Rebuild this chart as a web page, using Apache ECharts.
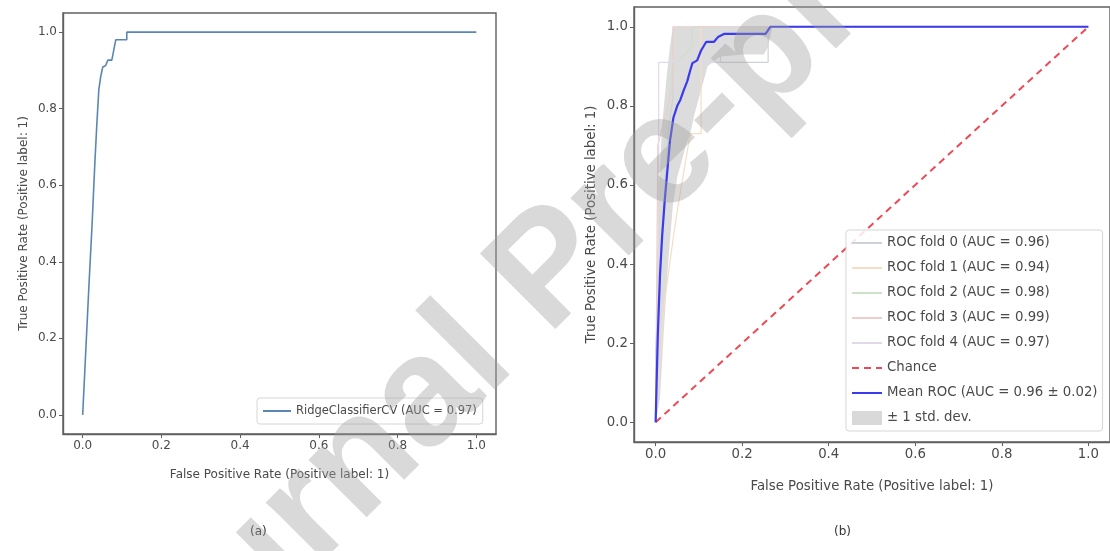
<!DOCTYPE html>
<html>
<head>
<meta charset="utf-8">
<title>ROC curves</title>
<script src="https://cdn.jsdelivr.net/npm/echarts@6/dist/echarts.min.js"></script>
<style>
  html, body { margin: 0; padding: 0; background: #fff; }
  #main { width: 1110px; height: 551px; }
</style>
</head>
<body>
<div id="main"></div>
<script>
// tick values shared by both panels
var tickVals = [0, 0.2, 0.4, 0.6, 0.8, 1.0];

// (a) RidgeClassifierCV
var ridgeFpr = [0, 0.008, 0.016, 0.024, 0.031, 0.036, 0.041, 0.046, 0.051, 0.058, 0.064, 0.074, 0.078, 0.082, 0.084, 0.112, 0.112, 1];
var ridgeTpr = [0, 0.17, 0.34, 0.5, 0.66, 0.76, 0.85, 0.885, 0.909, 0.912, 0.927, 0.927, 0.948, 0.948, 0.98, 0.98, 1, 1];

// (b) cross-validation folds
var foldNames = ['ROC fold 0 (AUC = 0.96)', 'ROC fold 1 (AUC = 0.94)', 'ROC fold 2 (AUC = 0.98)', 'ROC fold 3 (AUC = 0.99)', 'ROC fold 4 (AUC = 0.97)'];
var foldFpr = [
  [0, 0, 0.015, 0.03, 0.04, 0.04, 0.26, 0.26, 1],
  [0, 0.02, 0.045, 0.06, 0.08, 0.105, 0.105, 1],
  [0, 0.01, 0.03, 0.04, 0.085, 0.085, 1],
  [0, 0.005, 0.04, 0.04, 1],
  [0, 0.007, 0.007, 0.15, 0.15, 1]
];
var foldTpr = [
  [0, 0.18, 0.5, 0.75, 0.82, 0.91, 0.91, 1, 1],
  [0, 0.3, 0.5, 0.6, 0.73, 0.73, 1, 1],
  [0, 0.6, 0.8, 0.9, 0.95, 1, 1],
  [0, 0.7, 0.85, 1, 1],
  [0, 0.2, 0.91, 0.91, 1, 1]
];
var foldColors = ['#cdd2d8', '#f3dec6', '#cde0ca', '#edcdcd', '#e0d9e8'];

var chanceFpr = [0, 1];
var chanceTpr = [0, 1];

var meanFpr = [0, 0.005, 0.01, 0.015, 0.021, 0.033, 0.041, 0.05, 0.057, 0.065, 0.073, 0.08, 0.085, 0.096, 0.105, 0.117, 0.135, 0.145, 0.158, 0.254, 0.265, 1];
var meanTpr = [0, 0.22, 0.37, 0.47, 0.56, 0.71, 0.77, 0.8, 0.815, 0.84, 0.862, 0.89, 0.908, 0.915, 0.94, 0.962, 0.962, 0.975, 0.982, 0.982, 1, 1];

// +/- 1 std band edges
var upFpr = [0, 0.003, 0.008, 0.015, 0.025, 0.033, 0.04, 1];
var upTpr = [0, 0.4, 0.6, 0.75, 0.87, 0.95, 1, 1];
var loFpr = [0, 0.01, 0.02, 0.03, 0.04, 0.05, 0.06, 0.07, 0.08, 0.09, 0.1, 0.11, 0.12, 0.15, 0.2, 0.25, 0.26, 0.27, 1];
var loTpr = [0, 0.06, 0.25, 0.42, 0.55, 0.62, 0.66, 0.7, 0.73, 0.78, 0.82, 0.86, 0.9, 0.925, 0.93, 0.93, 0.95, 1, 1];

function zip(xs, ys) {
  return xs.map(function (x, i) { return [x, ys[i]]; });
}

var font = 'DejaVu Sans';
var ink = '#4a4a4a';
var spine = '#606060';

function xAx(idx, fs, gap) {
  return {
    type: 'value', gridIndex: idx, min: -0.05, max: 1.05,
    name: 'False Positive Rate (Positive label: 1)',
    nameLocation: 'middle', nameGap: gap,
    nameTextStyle: { fontFamily: font, fontSize: fs, color: ink },
    axisLine: { show: true, onZero: false, lineStyle: { color: spine, width: 1.4 } },
    axisTick: { show: true, length: 4, customValues: tickVals, lineStyle: { color: spine } },
    axisLabel: { customValues: tickVals, margin: 6, fontFamily: font, fontSize: fs, color: ink,
      formatter: function (v) { return v.toFixed(1); } },
    splitLine: { show: false }
  };
}
function yAx(idx, fs, gap) {
  return {
    type: 'value', gridIndex: idx, min: -0.05, max: 1.05,
    name: 'True Positive Rate (Positive label: 1)',
    nameLocation: 'middle', nameGap: gap,
    nameTextStyle: { fontFamily: font, fontSize: fs, color: ink },
    axisLine: { show: true, onZero: false, lineStyle: { color: spine, width: 1.4 } },
    axisTick: { show: true, length: 4, customValues: tickVals, lineStyle: { color: spine } },
    axisLabel: { customValues: tickVals, margin: 6, fontFamily: font, fontSize: fs, color: ink,
      formatter: function (v) { return v.toFixed(1); } },
    splitLine: { show: false }
  };
}

var series = [];
series.push({
  name: 'RidgeClassifierCV (AUC = 0.97)', type: 'line', xAxisIndex: 0, yAxisIndex: 0,
  data: zip(ridgeFpr, ridgeTpr), symbol: 'none',
  lineStyle: { color: '#5a86b2', width: 1.6 }, itemStyle: { color: '#5a86b2' }
});

// band polygon: upper edge forward, lower edge backward
var bandPts = zip(upFpr, upTpr).concat(zip(loFpr, loTpr).reverse());
series.push({
  name: '\u00b1 1 std. dev.', type: 'custom', xAxisIndex: 1, yAxisIndex: 1,
  data: bandPts, encode: { x: 0, y: 1 },
  itemStyle: { color: 'rgba(128,128,128,0.28)' },
  renderItem: function (params, api) {
    if (params.dataIndexInside !== 0) return null;
    var pts = bandPts.map(function (p) { return api.coord(p); });
    return { type: 'polygon', shape: { points: pts }, style: { fill: 'rgba(128,128,128,0.28)' } };
  },
  z: 1
});

foldNames.forEach(function (nm, i) {
  series.push({
    name: nm, type: 'line', xAxisIndex: 1, yAxisIndex: 1,
    data: zip(foldFpr[i], foldTpr[i]), symbol: 'none',
    lineStyle: { color: foldColors[i], width: 1.2 }, itemStyle: { color: foldColors[i] }, z: 2
  });
});
series.push({
  name: 'Chance', type: 'line', xAxisIndex: 1, yAxisIndex: 1,
  data: zip(chanceFpr, chanceTpr), symbol: 'none',
  lineStyle: { color: 'rgba(235,40,55,0.85)', width: 2, type: [7, 5] }, itemStyle: { color: 'rgba(235,40,55,0.85)' }, z: 3
});
series.push({
  name: 'Mean ROC (AUC = 0.96 \u00b1 0.02)', type: 'line', xAxisIndex: 1, yAxisIndex: 1,
  data: zip(meanFpr, meanTpr), symbol: 'none',
  lineStyle: { color: '#3a3aee', width: 2.2 }, itemStyle: { color: '#3a3aee' }, z: 4
});

var legendBase = {
  orient: 'vertical', itemHeight: 14,
  backgroundColor: 'rgba(255,255,255,0.85)', borderColor: '#d6d6d6', borderWidth: 1, borderRadius: 3,
  itemStyle: { opacity: 0 }
};

var option = {
  animation: false,
  backgroundColor: '#fff',
  grid: [
    { left: 63, top: 13, width: 433, height: 421, show: true, borderColor: spine, borderWidth: 1.4 },
    { left: 634, top: 7, width: 481, height: 435, show: true, borderColor: spine, borderWidth: 1.4 }
  ],
  xAxis: [xAx(0, 12, 35), xAx(1, 13.3, 38)],
  yAxis: [yAx(0, 12, 33), yAx(1, 13.3, 36)],
  legend: [
    Object.assign({}, legendBase, {
      left: 257, top: 398, padding: [6, 6, 6, 5], itemWidth: 28,
      data: ['RidgeClassifierCV (AUC = 0.97)'],
      textStyle: { fontFamily: font, color: ink, fontSize: 11.5, lineHeight: 14 }
    }),
    Object.assign({}, legendBase, {
      left: 846, top: 230, padding: [6, 5, 6, 5], itemGap: 11, itemWidth: 30,
      textStyle: { fontFamily: font, color: ink, fontSize: 13.3, lineHeight: 14 },
      data: foldNames.concat(['Chance', 'Mean ROC (AUC = 0.96 \u00b1 0.02)',
        { name: '\u00b1 1 std. dev.', icon: 'rect', itemStyle: { opacity: 1, color: 'rgba(128,128,128,0.3)' } }])
    })
  ],
  series: series,
  graphic: [
    { type: 'text', left: 250, top: 526, style: { text: '(a)', font: '12px "DejaVu Sans"', fill: '#333' } },
    { type: 'text', left: 834, top: 526, style: { text: '(b)', font: '12px "DejaVu Sans"', fill: '#333' } },
    // watermark
    { type: 'text', x: 146, y: 787, rotation: 0.785, z: 100,
      style: { text: 'Journal Pre-proof', font: 'bold 155px "Liberation Sans"', fill: 'rgba(160,160,160,0.4)',
        textAlign: 'left', textVerticalAlign: 'bottom' } }
  ]
};

var myChart = echarts.init(document.getElementById('main'));
myChart.setOption(option);
</script>
</body>
</html>
